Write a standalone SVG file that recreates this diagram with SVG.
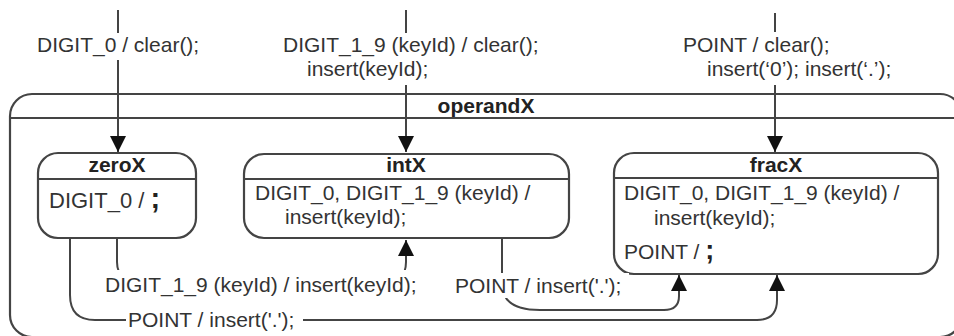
<svg xmlns="http://www.w3.org/2000/svg" width="954" height="336" viewBox="0 0 954 336">
  <style>
    .txt { font-family: "Liberation Sans", Arial, sans-serif; font-size: 21px; fill: #333; }
    .title { font-family: "Liberation Sans", Arial, sans-serif; font-size: 21px; font-weight: bold; fill: #222; text-anchor: middle; }
    .semi { font-weight: bold; font-size: 27px; fill: #222; }
    .box { fill: #fff; stroke: #444; stroke-width: 2.2; }
    .div { stroke: #444; stroke-width: 2.2; fill: none; }
    .edge { fill: none; stroke: #444; stroke-width: 2; }
    .bg { fill: #fff; }
  </style>
  <defs>
    <marker id="arrow" markerUnits="userSpaceOnUse" markerWidth="16" markerHeight="16" refX="16" refY="8" orient="auto">
      <path d="M0,0 L16,8 L0,16 z" fill="#111"/>
    </marker>
  </defs>

  <rect width="954" height="336" fill="#fff"/>

  <!-- composite state operandX -->
  <g id="operandX">
    <rect class="box" x="10" y="94" width="952" height="243" rx="22" ry="22"/>
    <line class="div" x1="10" y1="118" x2="962" y2="118"/>
    <text class="title" x="486" y="113">operandX</text>
  </g>

  <!-- substates -->
  <g id="zeroX">
    <rect class="box" x="38" y="153" width="158" height="85" rx="20" ry="20"/>
    <line class="div" x1="38" y1="179" x2="196" y2="179"/>
    <text class="title" x="117" y="172">zeroX</text>
    <text class="txt" x="49" y="208" style="font-size:22px">DIGIT_0 / <tspan class="semi" style="font-size:29px">;</tspan></text>
  </g>

  <g id="intX">
    <rect class="box" x="244" y="154" width="325" height="84" rx="20" ry="20"/>
    <line class="div" x1="244" y1="179" x2="569" y2="179"/>
    <text class="title" x="406" y="172">intX</text>
    <text class="txt" x="255" y="200">DIGIT_0, DIGIT_1_9 (keyId) /</text>
    <text class="txt" x="285" y="224">insert(keyId);</text>
  </g>

  <g id="fracX">
    <rect class="box" x="614" y="153" width="324" height="121" rx="20" ry="20"/>
    <line class="div" x1="614" y1="178" x2="938" y2="178"/>
    <text class="title" x="776" y="172">fracX</text>
    <text class="txt" x="624" y="200">DIGIT_0, DIGIT_1_9 (keyId) /</text>
    <text class="txt" x="654" y="225">insert(keyId);</text>
    <text class="txt" x="624" y="259">POINT / <tspan class="semi">;</tspan></text>
  </g>

  <!-- transitions -->
  <g id="connectors">
    <!-- initial transitions -->
    <path class="edge" d="M118,10 V152" marker-end="url(#arrow)"/>
    <rect class="bg" x="35" y="33" width="168" height="27"/>
    <text class="txt" x="37" y="52">DIGIT_0 / clear();</text>

    <path class="edge" d="M406,10 V152" marker-end="url(#arrow)"/>
    <rect class="bg" x="281" y="33" width="236" height="52"/>
    <text class="txt" x="283" y="52">DIGIT_1_9 (keyId) / clear();</text>
    <text class="txt" x="307" y="76">insert(keyId);</text>

    <path class="edge" d="M775,13 V152" marker-end="url(#arrow)"/>
    <rect class="bg" x="681" y="32" width="228" height="53"/>
    <text class="txt" x="683" y="52">POINT / clear();</text>
    <text class="txt" x="707" y="76">insert(‘0’); insert(‘.’);</text>

    <!-- zeroX to intX -->
    <path class="edge" d="M117,238 V262 Q117,272 124,280 H400 Q406,272 406,262 V240" marker-end="url(#arrow)"/>
    <rect class="bg" x="103" y="270" width="322" height="27"/>
    <text class="txt" x="105" y="292">DIGIT_1_9 (keyId) / insert(keyId);</text>

    <!-- intX to fracX -->
    <path class="edge" d="M502,238 V284 C502,302 515,310 540,310 H664 Q679,310 679,296 V275" marker-end="url(#arrow)"/>
    <rect class="bg" x="453" y="273" width="176" height="25"/>
    <text class="txt" x="455" y="293">POINT / insert('.');</text>

    <!-- zeroX to fracX -->
    <path class="edge" d="M70,238 V295 Q70,320 95,320 H757 Q777,320 777,300 V275" marker-end="url(#arrow)"/>
    <rect class="bg" x="126" y="309" width="177" height="22"/>
    <text class="txt" x="128" y="327">POINT / insert('.');</text>
  </g>
</svg>
